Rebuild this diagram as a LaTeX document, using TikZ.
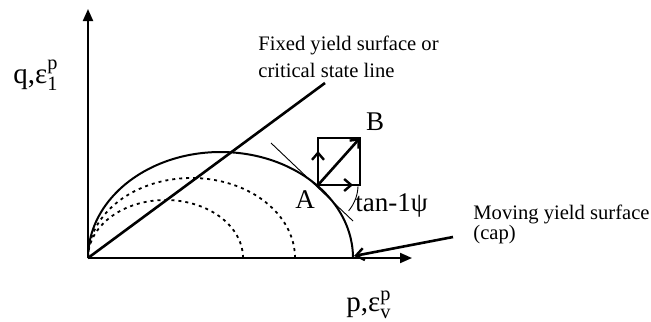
\documentclass[tikz,border=0pt]{standalone}
\usepackage{fontspec}
\setmainfont{Liberation Serif}
\usetikzlibrary{arrows.meta}
\begin{document}
\begin{tikzpicture}[x=0.5pt,y=-0.5pt]
\tikzset{
  axis/.style={line width=1pt,-{Triangle[length=6pt,width=5pt]}},
  solidcurve/.style={line width=1pt},
  dotcurve/.style={line width=0.9pt,dash pattern=on 1.5pt off 2pt},
  cslline/.style={line width=1.3pt},
  thinline/.style={line width=0.45pt},
  boxline/.style={line width=1.3pt},
  vec/.style={line width=1.3pt,-{Straight Barb[length=3.5pt,width=6pt,line width=1.2pt]}},
  ptr/.style={line width=1.3pt,-{Straight Barb[length=4pt,width=6pt,line width=1.2pt]}},
  lbl/.style={font=\fontsize{10.3}{13.5}\selectfont,align=left,inner sep=0pt,anchor=west},
  lbltight/.style={font=\fontsize{10.3}{10}\selectfont,align=left,inner sep=0pt,anchor=west},
  biglbl/.style={font=\fontsize{13.5}{13.5}\selectfont,inner sep=0pt},
  axlbl/.style={font=\fontsize{14.5}{14.5}\selectfont,inner sep=0pt}
}
\useasboundingbox (0,0) rectangle (651,321);
% axes
\coordinate (O) at (88,258);
\coordinate (ytip) at (88,9);
\coordinate (xtip) at (412,258);
\draw[axis] (O) -- (ytip);
\draw[axis] (O) -- (xtip);
% yield surfaces
\draw[solidcurve] plot[domain=0:180,samples=90,smooth] ({220.5+132.5*cos(\x)},{258-106*sin(\x)});
\draw[dotcurve] plot[domain=0:180,samples=90,smooth] ({191.5+103.5*cos(\x)},{258-80*sin(\x)});
\draw[dotcurve] plot[domain=0:180,samples=90,smooth] ({165.5+77.5*cos(\x)},{258-58*sin(\x)});
% critical state line
\coordinate (cslend) at (325,83);
\draw[cslline] (O) -- (cslend);
% tangent
\coordinate (t1) at (271,143);
\coordinate (t2) at (353,221);
\draw[thinline] (t1) -- (t2);
% box and vectors
\coordinate (A) at (318,185);
\coordinate (Bc) at (360,138);
\coordinate (up) at (318,151);
\coordinate (rt) at (353,185);
\draw[boxline] (A) rectangle (Bc);
\draw[vec] (A) -- (up);
\draw[vec] (A) -- (rt);
\draw[vec] (A) -- (Bc);
% angle arc
\draw[thinline] plot[domain=2:40,samples=20,smooth] ({318+40*cos(\x)},{185+40*sin(\x)});
% pointer
\coordinate (ptail) at (453,237);
\coordinate (phead) at (354,256);
\draw[ptr] (ptail) -- (phead);
% labels
\node[lbl] (fixed) at (258,56.5) {Fixed yield surface or\\critical state line};
\node[lbltight] (moving) at (473,224) {Moving yield surface\\(cap)};
\node[biglbl] (Alab) at (305,200) {A};
\node[biglbl] (Blab) at (375,122) {B};
\node[biglbl,anchor=west] (tanlab) at (355,205) {tan-1ψ};
\node[axlbl] (qlab) at (36,75) {q,ε$^{\mathrm{p}}_{\mathrm{1}}$};
\node[axlbl] (plab) at (369,305) {p,ε$^{\mathrm{p}}_{\mathrm{v}}$};
\end{tikzpicture}
\end{document}
